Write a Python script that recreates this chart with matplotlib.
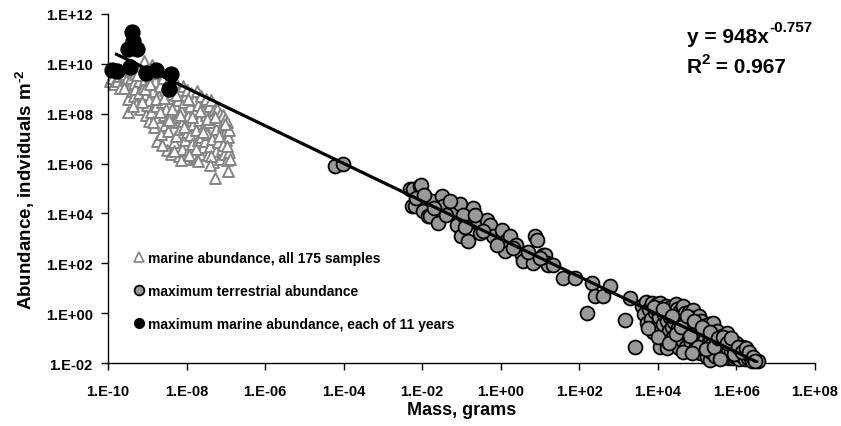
import matplotlib
matplotlib.use("Agg")
import matplotlib.pyplot as plt
from matplotlib.lines import Line2D
from matplotlib.ticker import FixedLocator, FuncFormatter, NullLocator
from matplotlib.transforms import IdentityTransform
import numpy as np

plt.rcParams['font.family'] = ['Liberation Sans', 'DejaVu Sans']
plt.rcParams['font.weight'] = 'bold'
plt.rcParams['mathtext.fontset'] = 'custom'
plt.rcParams['mathtext.bf'] = 'Liberation Sans:bold'
plt.rcParams['mathtext.rm'] = 'Liberation Sans:bold'
plt.rcParams['mathtext.default'] = 'bf'

# ---- data (log10 values) ----
marine_log_mass = [
    -9.95, -9.90, -9.85, -9.78, -9.72, -9.70,
    -9.60, -9.55, -9.50, -9.49, -9.45, -9.45, -9.42, -9.40, -9.38, -9.35, -9.33, -9.30, -9.30, -9.28,
    -9.25, -9.22, -9.20, -9.18, -9.15, -9.12, -9.10, -9.08, -9.05, -9.04, -9.02, -9.00, -9.00, -8.98, -8.96,
    -8.95, -8.92, -8.90, -8.88, -8.85, -8.82, -8.80, -8.78, -8.76, -8.74, -8.72, -8.70, -8.68, -8.65, -8.63,
    -8.60, -8.58, -8.56, -8.54, -8.52, -8.50, -8.50,
    -8.48, -8.46, -8.44, -8.42, -8.40, -8.38, -8.36, -8.34, -8.32, -8.30, -8.28, -8.26, -8.24, -8.22, -8.20,
    -8.18, -8.16, -8.14, -8.12, -8.10, -8.08, -8.06, -8.04, -8.02, -8.00, -8.00,
    -7.98, -7.96, -7.94, -7.92, -7.90, -7.88, -7.86, -7.84, -7.82, -7.80, -7.78, -7.76, -7.74, -7.72, -7.70,
    -7.68, -7.66, -7.64, -7.62, -7.60, -7.58, -7.56, -7.54, -7.52, -7.50, -7.50,
    -7.48, -7.46, -7.44, -7.42, -7.40, -7.38, -7.36, -7.34, -7.32, -7.30, -7.28, -7.26, -7.24, -7.22, -7.20,
    -7.18, -7.16, -7.14, -7.12, -7.10, -7.08, -7.06, -7.04, -7.02, -7.00, -7.00,
    -6.98, -6.96, -6.95, -6.94, -6.93, -6.92, -6.90,
    -9.58, -9.36, -9.26, -9.14, -9.06, -8.94, -8.86, -8.77, -8.67, -8.57, -8.45, -8.37, -8.27, -8.17,
    -8.07, -7.97, -7.87, -7.77, -7.67, -7.57, -7.47, -7.37, -7.27, -7.17, -7.07, -7.03, -6.97,
    -8.62, -8.33, -8.13, -7.93, -7.71, -7.41,
]
marine_log_abund = [
    9.30, 9.45, 9.20, 9.32, 9.50, 9.05,
    9.60, 9.35, 8.58, 8.06, 9.80, 9.10, 9.45, 8.90, 9.95, 9.25, 8.70, 9.60, 9.00, 8.40,
    9.85, 9.30, 8.85, 8.20, 9.55, 9.05, 8.60, 10.10, 9.40, 7.95, 8.80, 9.75, 8.35, 9.15, 7.70,
    8.55, 9.50, 8.05, 9.95, 8.90, 7.45, 9.30, 8.30, 6.90, 9.65, 7.85, 8.70, 9.10, 7.20, 8.45,
    9.45, 7.95, 8.95, 7.55, 8.20, 9.20, 6.55,
    8.65, 7.30, 9.35, 8.00, 6.40, 8.80, 7.65, 9.05, 6.85, 8.35, 7.10, 9.25, 7.85, 8.55, 6.30,
    8.95, 7.40, 8.15, 6.60, 9.10, 7.70, 8.45, 6.95, 8.75, 7.25, 6.20,
    8.95, 7.90, 6.55, 8.30, 7.15, 8.85, 6.80, 7.60, 8.55, 6.25, 8.05, 7.35, 8.90, 6.95, 8.35,
    7.75, 6.40, 8.70, 7.05, 8.15, 6.65, 7.50, 8.50, 6.90, 7.95, 8.60,
    7.20, 6.35, 8.30, 7.65, 6.70, 8.55, 7.00, 7.90, 6.05, 8.15, 5.44, 7.40, 6.50, 8.20, 6.85,
    7.75, 6.20, 8.00, 7.15, 6.60, 7.55, 7.95, 6.40, 7.80, 6.95, 7.30,
    6.15, 7.65, 5.69, 7.05, 6.45, 7.35, 6.20,
    9.05, 8.30, 9.55, 8.45, 9.00, 9.20, 7.65, 8.60, 8.05, 8.65, 7.75, 8.20, 8.75, 7.95,
    7.45, 8.60, 7.85, 6.60, 8.10, 7.25, 7.80, 6.30, 7.85, 7.10, 6.75, 7.60, 6.70,
    6.75, 6.50, 6.15, 6.35, 6.10, 5.95,
]

terr_log_mass = [
    -4.22, -4.01,
    -2.31, -2.27, -2.23, -2.18, -2.06, -2.02, -1.97, -1.85, -1.80, -1.76, -1.50, -1.46, -1.25, -1.12,
    -1.04, -1.00, -0.83, -0.78, -0.70, -0.57, -0.53, -0.36, -0.27, -0.19, 0.02, 0.11, 0.15, 0.23,
    0.40, 0.53, 0.57, 0.83, 0.87, 0.91, 1.08, 1.13, 1.17, 1.21, 1.34,
    -2.15, -1.95, -1.70, -1.60, -1.40, -1.30, -0.95, -0.90, -0.65, -0.45, -0.10, 0.30, 0.70, 1.00,
    1.59, 1.89, 2.19, 2.31, 2.40, 2.61, 2.78, 3.16, 3.29, 3.42,
    3.60, 3.65, 3.70, 3.72, 3.78, 3.82, 3.85, 3.88, 3.92, 3.95, 3.98,
    4.02, 4.05, 4.05, 4.08, 4.10, 4.12, 4.15, 4.18, 4.20, 4.22, 4.24, 4.26, 4.28, 4.30, 4.33,
    4.35, 4.38, 4.40, 4.42, 4.45, 4.45, 4.48, 4.50,
    4.52, 4.55, 4.57, 4.60, 4.62, 4.65, 4.65, 4.68, 4.70, 4.72, 4.75, 4.78, 4.80, 4.82, 4.85,
    4.88, 4.90, 4.92, 4.95, 4.98,
    5.00, 5.03, 5.05, 5.05, 5.08, 5.10, 5.13, 5.15, 5.18, 5.20, 5.24, 5.25, 5.28, 5.30, 5.33,
    5.33, 5.36, 5.38, 5.40, 5.40, 5.43, 5.46, 5.48,
    5.50, 5.53, 5.56, 5.60, 5.62, 5.65, 5.68, 5.70, 5.73, 5.75, 5.75, 5.78, 5.80, 5.83, 5.86,
    5.90, 5.91, 5.93, 5.96,
    6.00, 6.03, 6.06, 6.10, 6.13, 6.16, 6.20, 6.23, 6.26, 6.30, 6.35, 6.40, 6.45, 6.55,
    3.75, 3.90, 4.00, 4.14, 4.27, 4.36, 4.47, 4.58, 4.63, 4.73, 4.83, 4.93, 5.02, 5.12, 5.22,
    5.32, 5.42, 5.52, 5.58, 5.67, 5.77, 5.85, 5.95, 6.05, 6.15, 6.25, 6.33, 6.42, 6.48, 4.87,
]
terr_log_abund = [
    5.90, 5.97,
    4.96, 4.29, 4.96, 4.29, 5.09, 5.16, 4.09, 3.89, 3.89, 4.49, 4.69, 4.29, 4.09, 3.55,
    4.36, 3.08, 2.88, 3.82, 4.22, 3.62, 3.22, 3.75, 3.55, 3.08, 3.35, 2.48, 2.95, 3.08,
    2.75, 2.35, 2.08, 2.01, 3.08, 2.95, 2.35, 2.35, 2.01, 1.94, 1.94,
    4.60, 4.75, 4.20, 3.60, 3.95, 4.50, 3.95, 3.45, 3.95, 3.30, 2.75, 2.60, 2.45, 2.20,
    1.41, 1.41, 0.00, 1.21, 0.67, 0.67, 1.07, -0.27, 0.60, -1.34,
    0.30, -0.05, 0.45, -0.40, 0.15, -0.25, 0.40, -0.75, 0.05, -0.50, 0.35,
    -0.15, 0.40, -1.34, -0.90, 0.20, -0.45, -0.05, -1.05, 0.30, -1.41, -0.30, 0.10, -0.70, -0.15, 0.25,
    -0.55, -0.95, 0.05, -0.35, -1.15, 0.35, 0.15, -0.60,
    -0.20, -1.40, 0.10, -0.85, -0.40, -1.10, 0.30, 0.00, -0.65, -1.35, -0.30, -0.95, 0.05, -0.55, -1.20,
    -0.20, 0.13, -0.80, -1.45, -0.45,
    -0.15, -1.10, -0.60, -0.10, -1.60, -0.30, -0.90, -1.30, -0.50, -1.05, -1.74, -0.70, -1.25, -0.45, -0.95,
    -1.88, -1.55, -0.65, -1.15, -0.40, -0.80, -1.70, -1.00,
    -0.70, -1.35, -1.05, -1.65, -0.90, -1.25, -1.75, -1.10, -0.85, -0.94, -0.80, -1.45, -1.80, -1.20, -1.55,
    -1.30, -1.80, -1.70, -1.40,
    -1.20, -1.60, -1.85, -1.45, -1.70, -1.35, -1.65, -1.85, -1.61, -1.78, -1.70, -1.90, -1.85, -1.92,
    -0.60, 0.25, -0.95, 0.15, -1.20, -0.10, -0.85, -0.55, -1.55, -0.10, -0.90, -0.30, -1.35, -0.55, -1.45,
    -0.75, -1.35, -1.00, -1.85, -0.95, -1.20, -1.00, -1.65, -1.35, -1.55, -1.40, -1.55, -1.75, -1.92, -1.60,
]

max_marine_log_mass = [-9.90, -9.78, -9.48, -9.44, -9.40, -9.36, -9.27, -9.03, -8.79, -8.40, -8.44]
max_marine_log_abund = [9.74, 9.72, 10.59, 9.86, 11.26, 10.91, 10.59, 9.63, 9.76, 9.59, 9.01]

fit_coef = 948.0
fit_exp = -0.757
fit_r2 = 0.967
fit_log_mass_range = [-9.82, 6.55]

x_tick_exps = [-10, -8, -6, -4, -2, 0, 2, 4, 6, 8]
y_tick_exps = [-2, 0, 2, 4, 6, 8, 10, 12]

legend_labels = ["marine abundance, all 175 samples",
                 "maximum terrestrial abundance",
                 "maximum marine abundance, each of 11 years"]

# ---- figure ----
W, H = 841, 427
fig = plt.figure(figsize=(W / 100, H / 100), dpi=100)
ax = fig.add_axes([0.1284, 0.1475, 0.8407, 0.8174])

mx = 10.0 ** np.array(marine_log_mass)
my = 10.0 ** np.array(marine_log_abund)
tx = 10.0 ** np.array(terr_log_mass)
ty = 10.0 ** np.array(terr_log_abund)
bx = 10.0 ** np.array(max_marine_log_mass)
by = 10.0 ** np.array(max_marine_log_abund)

ax.scatter(mx, my, marker='^', s=62, facecolor='white', edgecolor='#858585',
           linewidth=1.4, zorder=2, clip_on=False)
ax.scatter(tx, ty, marker='o', s=100, facecolor='#999999', edgecolor='black',
           linewidth=1.3, zorder=3, clip_on=False)
lx = 10.0 ** np.linspace(fit_log_mass_range[0], fit_log_mass_range[1], 200)
ax.plot(lx, fit_coef * lx ** fit_exp, color='black', lw=2.3, zorder=4, solid_capstyle='butt')
ax.scatter(bx, by, marker='o', s=115, facecolor='black', edgecolor='black',
           linewidth=1.0, zorder=5, clip_on=False)

ax.set_xscale('log')
ax.set_yscale('log')
ax.set_xlim(10.0 ** x_tick_exps[0], 10.0 ** x_tick_exps[-1])
ax.set_ylim(10.0 ** y_tick_exps[0], 10.0 ** y_tick_exps[-1])
ax.xaxis.set_major_locator(FixedLocator([10.0 ** e for e in x_tick_exps]))
ax.yaxis.set_major_locator(FixedLocator([10.0 ** e for e in y_tick_exps]))
ax.xaxis.set_minor_locator(NullLocator())
ax.yaxis.set_minor_locator(NullLocator())
fmt = FuncFormatter(lambda v, p: "1.E%+03d" % int(round(np.log10(v))))
ax.xaxis.set_major_formatter(fmt)
ax.yaxis.set_major_formatter(fmt)
ax.tick_params(axis='both', direction='out', length=5, width=1, labelsize=10.5)
ax.tick_params(axis='x', pad=10)
ax.tick_params(axis='y', pad=6)
for lab in ax.get_xticklabels() + ax.get_yticklabels():
    lab.set_fontweight('bold')

ax.spines['top'].set_visible(False)
ax.spines['right'].set_visible(False)
ax.spines['left'].set_linewidth(1)
ax.spines['bottom'].set_linewidth(1)

ax.set_xlabel("Mass, grams", fontsize=13, fontweight='bold', labelpad=2)
ax.set_ylabel(r"Abundance, indviduals m$^{\text{-2}}$", fontsize=13.5, fontweight='bold', labelpad=6)

# equation text with superscripts placed after measuring the base text
renderer = fig.canvas.get_renderer()
px = IdentityTransform()
eq1 = fig.text(687, H - 43, "y = %gx" % fit_coef, transform=px, fontsize=15,
               fontweight='bold', ha='left', va='baseline')
bb = eq1.get_window_extent(renderer)
fig.text(bb.x1, H - 32, "%g" % fit_exp, transform=px, fontsize=11,
         fontweight='bold', ha='left', va='baseline')
eq2 = fig.text(687, H - 73, "R", transform=px, fontsize=15,
               fontweight='bold', ha='left', va='baseline')
bb = eq2.get_window_extent(renderer)
sup = fig.text(bb.x1, H - 64, "2", transform=px, fontsize=11,
               fontweight='bold', ha='left', va='baseline')
bb = sup.get_window_extent(renderer)
fig.text(bb.x1 - 1, H - 73, " = %.3f" % fit_r2, transform=px, fontsize=15,
         fontweight='bold', ha='left', va='baseline')

handles = [
    Line2D([], [], ls='none', marker='^', markersize=7, markerfacecolor='white',
           markeredgecolor='#858585', markeredgewidth=1.2),
    Line2D([], [], ls='none', marker='o', markersize=7, markerfacecolor='#999999',
           markeredgecolor='black', markeredgewidth=1.3),
    Line2D([], [], ls='none', marker='o', markersize=7, markerfacecolor='black',
           markeredgecolor='black'),
]
leg = ax.legend(handles, legend_labels, loc='upper left',
                bbox_to_anchor=(135 / W, 1 - 252 / H), bbox_transform=fig.transFigure,
                frameon=False, fontsize=10, handlelength=0.6, handletextpad=0.3,
                labelspacing=1.35, borderpad=0, borderaxespad=0)
for t in leg.get_texts():
    t.set_fontweight('bold')

fig.savefig("out.png", dpi=100)
